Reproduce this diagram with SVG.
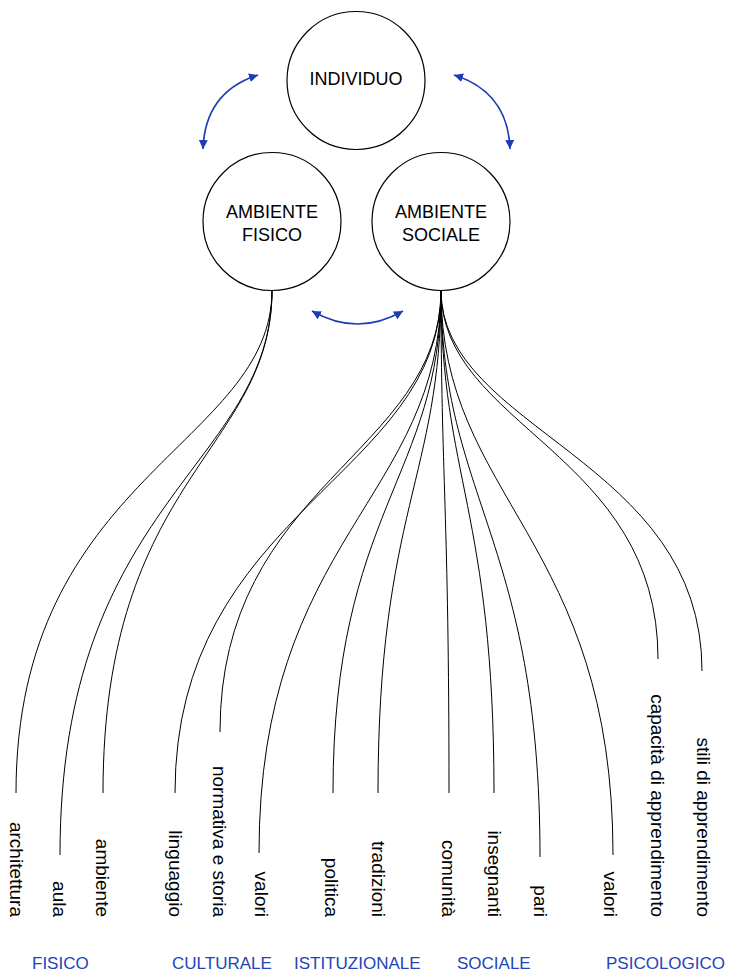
<svg xmlns="http://www.w3.org/2000/svg" width="734" height="973" viewBox="0 0 734 973">
<style>
.node circle{fill:#fff;stroke:#000;stroke-width:1.2}
.node text{font-family:"Liberation Sans",Arial,sans-serif;font-size:18px;fill:#000;text-anchor:middle}
.conn path{fill:none;stroke:#000;stroke-width:1}
.arr path{fill:none;stroke:#1f3db3;stroke-width:1.7}
.lbl{font-family:"Liberation Sans",Arial,sans-serif;font-size:19px;fill:#000;text-anchor:end}
.cat{font-family:"Liberation Sans",Arial,sans-serif;font-size:17px;fill:#2244b8}
</style>
<defs>
<marker id="ah" viewBox="0 0 10 10" refX="10" refY="5" markerWidth="9" markerHeight="9" markerUnits="userSpaceOnUse" orient="auto-start-reverse">
<path d="M0,0 L10,5 L0,10 z" fill="#1f3db3"/>
</marker>
</defs>
<g id="connectors" class="conn">
<path d="M272,290 C272,445 16,476 16,793"/>
<path d="M272,290 C272,466 60,499 60,855"/>
<path d="M272,290 C272,451 103,476 103,793"/>
<path d="M441,290 C441,476 175,511 175,793"/>
<path d="M441,290 C441,454 220,484 220,732"/>
<path d="M441,290 C441,498 259,538 259,853"/>
<path d="M441,290 C441,476 333,511 333,793"/>
<path d="M441,290 C441,476 378,511 378,793"/>
<path d="M441,290 C441,476 449,511 449,793"/>
<path d="M441,290 C441,476 494,511 494,793"/>
<path d="M441,290 C441,500 540,539 540,857"/>
<path d="M441,290 C441,499 613,539 613,855"/>
<path d="M441,290 C441,427 658,452 658,659"/>
<path d="M441,290 C441,431 702,458 702,671"/>
</g>
<g id="arrows" class="arr">
<path d="M203,149 Q205,92 258,75" marker-start="url(#ah)" marker-end="url(#ah)"/>
<path d="M510,149 Q508,92 454,75" marker-start="url(#ah)" marker-end="url(#ah)"/>
<path d="M312,311 Q357.5,337 403,311" marker-start="url(#ah)" marker-end="url(#ah)"/>
</g>
<g id="individuo" class="node">
<circle cx="356" cy="80.5" r="69"/>
<text x="356" y="85">INDIVIDUO</text>
</g>
<g id="ambiente-fisico" class="node">
<circle cx="272" cy="221.5" r="69"/>
<text x="272" y="218">AMBIENTE</text>
<text x="272" y="241">FISICO</text>
</g>
<g id="ambiente-sociale" class="node">
<circle cx="441" cy="221.5" r="69"/>
<text x="441" y="218">AMBIENTE</text>
<text x="441" y="241">SOCIALE</text>
</g>
<g id="labels">
<text class="lbl" transform="translate(10,917) rotate(90)">architettura</text>
<text class="lbl" transform="translate(53,917) rotate(90)">aula</text>
<text class="lbl" transform="translate(96,917) rotate(90)">ambiente</text>
<text class="lbl" transform="translate(169,917) rotate(90)">linguaggio</text>
<text class="lbl" transform="translate(213,917) rotate(90)">normativa e storia</text>
<text class="lbl" transform="translate(255,917) rotate(90)">valori</text>
<text class="lbl" transform="translate(325,917) rotate(90)">politica</text>
<text class="lbl" transform="translate(372,917) rotate(90)">tradizioni</text>
<text class="lbl" transform="translate(442,917) rotate(90)">comunità</text>
<text class="lbl" transform="translate(488,917) rotate(90)">insegnanti</text>
<text class="lbl" transform="translate(534,917) rotate(90)">pari</text>
<text class="lbl" transform="translate(604,917) rotate(90)">valori</text>
<text class="lbl" transform="translate(651,917) rotate(90)">capacità di apprendimento</text>
<text class="lbl" transform="translate(697,917) rotate(90)">stili di apprendimento</text>
</g>
<g id="categories">
<text class="cat" x="32" y="969">FISICO</text>
<text class="cat" x="172" y="969">CULTURALE</text>
<text class="cat" x="294" y="969">ISTITUZIONALE</text>
<text class="cat" x="457" y="969">SOCIALE</text>
<text class="cat" x="606" y="969">PSICOLOGICO</text>
</g>
</svg>
